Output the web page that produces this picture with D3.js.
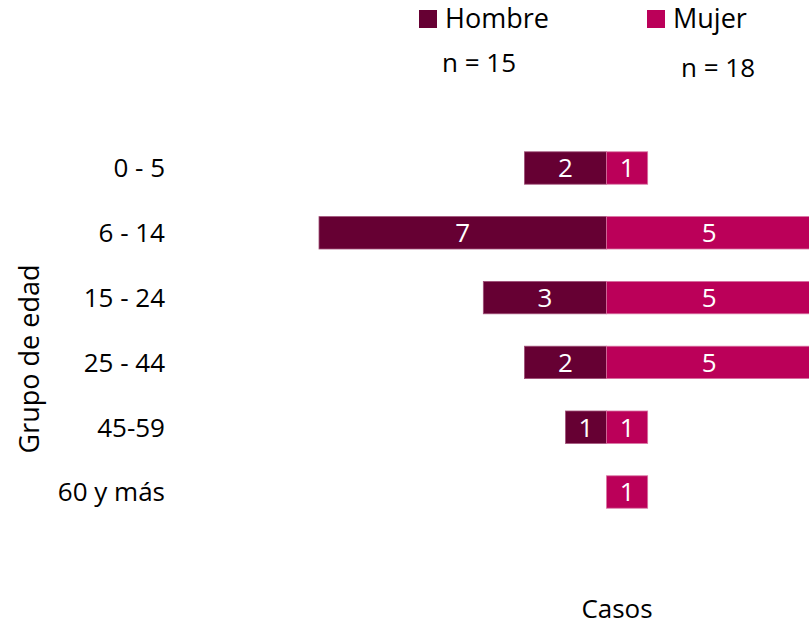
<!DOCTYPE html>
<html>
<head>
<meta charset="utf-8">
<script src="https://cdn.jsdelivr.net/npm/d3@7"></script>
<style>
  body { margin: 0; background: #fff; }
  svg { display: block; font-family: "Open Sans", sans-serif; }
</style>
</head>
<body>
<div id="chart"></div>
<script>
// age groups, top to bottom
const ageGroups = ["0 - 5", "6 - 14", "15 - 24", "25 - 44", "45-59", "60 y más"];
const hombre = [2, 7, 3, 2, 1, 0];
const mujer = [1, 5, 5, 5, 1, 1];
const seriesNames = ["Hombre", "Mujer"];
const seriesTotals = ["n = 15", "n = 18"];

const colours = ["#660033", "#BB0059"];

const width = 809, height = 631;
const fs = 26;

const svg = d3.select("#chart").append("svg")
  .attr("width", width)
  .attr("height", height);

// centre line at 607, about 41px per case
const x = d3.scaleLinear()
  .domain([-7, 5])
  .range([319, 812]);

const y = d3.scaleBand()
  .domain(ageGroups)
  .range([135.6, 524.4])
  .paddingInner(0.5)
  .paddingOuter(0.25);

const rows = ageGroups.map((g, i) => ({ group: g, h: hombre[i], m: mujer[i] }));

// hombre bars (left side)
svg.selectAll(".bar-h")
  .data(rows.filter(d => d.h > 0))
  .enter().append("rect")
  .attr("class", "bar-h")
  .attr("x", d => x(-d.h))
  .attr("y", d => y(d.group))
  .attr("width", d => x(0) - x(-d.h))
  .attr("height", y.bandwidth())
  .attr("fill", colours[0])
  .attr("stroke", "#a05078")
  .attr("stroke-width", 0.8);

// mujer bars (right side)
svg.selectAll(".bar-m")
  .data(rows.filter(d => d.m > 0))
  .enter().append("rect")
  .attr("class", "bar-m")
  .attr("x", x(0))
  .attr("y", d => y(d.group))
  .attr("width", d => x(d.m) - x(0))
  .attr("height", y.bandwidth())
  .attr("fill", colours[1])
  .attr("stroke", "#d870a0")
  .attr("stroke-width", 0.8);

// value labels
svg.selectAll(".lab-h")
  .data(rows.filter(d => d.h > 0))
  .enter().append("text")
  .attr("x", d => x(-d.h / 2))
  .attr("y", d => y(d.group) + y.bandwidth() / 2)
  .attr("dy", "0.36em")
  .attr("text-anchor", "middle")
  .attr("fill", "#fff")
  .attr("font-size", fs)
  .text(d => d.h);

svg.selectAll(".lab-m")
  .data(rows.filter(d => d.m > 0))
  .enter().append("text")
  .attr("x", d => x(d.m / 2))
  .attr("y", d => y(d.group) + y.bandwidth() / 2)
  .attr("dy", "0.36em")
  .attr("text-anchor", "middle")
  .attr("fill", "#fff")
  .attr("font-size", fs)
  .text(d => d.m);

// y axis (labels only)
const yAxis = d3.axisLeft(y).tickSize(0).tickPadding(0);
svg.append("g")
  .attr("class", "y-axis")
  .attr("transform", "translate(165,0)")
  .call(yAxis)
  .call(g => g.select(".domain").remove())
  .call(g => g.selectAll("text")
    .attr("font-family", "Open Sans, sans-serif")
    .attr("font-size", fs)
    .attr("fill", "#000")
    .attr("dy", "0.36em"));

svg.append("text")
  .attr("transform", "translate(39,359) rotate(-90)")
  .attr("text-anchor", "middle")
  .attr("font-size", 27)
  .text("Grupo de edad");

svg.append("text")
  .attr("x", 617)
  .attr("y", 618)
  .attr("text-anchor", "middle")
  .attr("font-size", fs)
  .text("Casos");

// legend
const legendX = [419, 647];
const totalsX = [442, 681];
const totalsY = [72, 77];
seriesNames.forEach((name, i) => {
  svg.append("rect")
    .attr("x", legendX[i])
    .attr("y", 10)
    .attr("width", 18)
    .attr("height", 18)
    .attr("fill", colours[i]);
  svg.append("text")
    .attr("x", legendX[i] + 26)
    .attr("y", 28)
    .attr("font-size", 27)
    .text(name);
  svg.append("text")
    .attr("x", totalsX[i])
    .attr("y", totalsY[i])
    .attr("font-size", fs)
    .text(seriesTotals[i]);
});
</script>
</body>
</html>
